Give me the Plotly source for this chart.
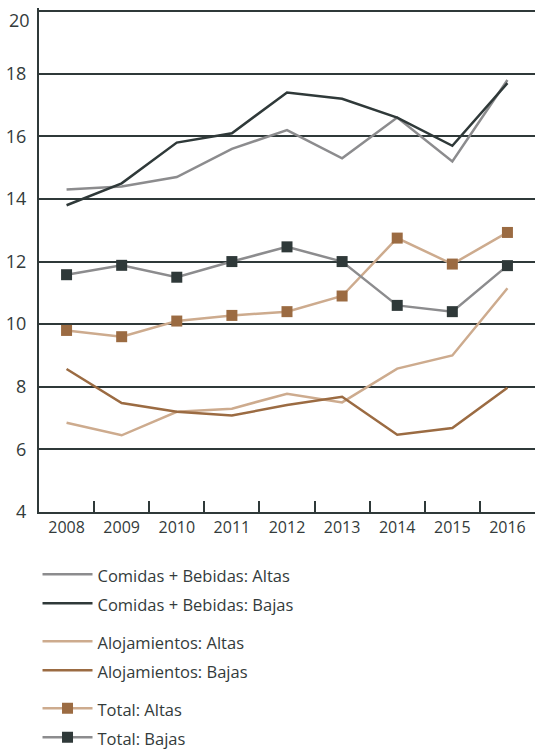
import plotly.graph_objects as go

years = ["2008", "2009", "2010", "2011", "2012", "2013", "2014", "2015", "2016"]

comidas_altas = [14.3, 14.4, 14.7, 15.6, 16.2, 15.3, 16.6, 15.2, 17.8]
comidas_bajas = [13.8, 14.5, 15.8, 16.1, 17.4, 17.2, 16.6, 15.7, 17.7]
aloj_altas = [6.85, 6.45, 7.2, 7.3, 7.78, 7.5, 8.58, 9.0, 11.15]
aloj_bajas = [8.57, 7.48, 7.2, 7.08, 7.42, 7.68, 6.47, 6.68, 7.97]
total_altas = [9.8, 9.6, 10.1, 10.28, 10.4, 10.9, 12.75, 11.92, 12.93]
total_bajas = [11.58, 11.88, 11.5, 12.0, 12.47, 12.0, 10.6, 10.4, 11.87]
y_ticks = [4, 6, 8, 10, 12, 14, 16, 18, 20]

GRAY = "#8c8c8e"
DARK = "#2f3939"
TAN = "#cdab8e"
BROWN = "#9b6b42"
TEXT = "#333b3b"
FONT = "Open Sans"

fig = go.Figure()

def add_line(y, name, color, group, marker_color=None):
    kw = dict(mode="lines")
    if marker_color:
        kw = dict(mode="lines+markers",
                  marker=dict(symbol="square", size=11, color=marker_color))
    fig.add_trace(go.Scatter(
        x=years, y=y,
        name=f"<span style='font-size:16.5px'>{name}</span>",
        legendgroup=group,
        line=dict(color=color, width=2.5), **kw))

add_line(comidas_altas, "Comidas + Bebidas: Altas", GRAY, "g1")
add_line(comidas_bajas, "Comidas + Bebidas: Bajas", DARK, "g1")
add_line(aloj_altas, "Alojamientos: Altas", TAN, "g2")
add_line(aloj_bajas, "Alojamientos: Bajas", BROWN, "g2")
add_line(total_altas, "Total: Altas", TAN, "g3", BROWN)
add_line(total_bajas, "Total: Bajas", GRAY, "g3", DARK)

# top tick label sits just below its gridline, as in the reference
tick_text = [str(v) for v in y_ticks]
tick_text[-1] = ""
fig.add_annotation(
    xref="paper", yref="y", x=0, y=y_ticks[-1], text=str(y_ticks[-1]),
    xanchor="right", yanchor="middle", xshift=-7, yshift=-8.5,
    showarrow=False, font=dict(size=18, family=FONT, color=TEXT),
)

fig.update_layout(
    width=535, height=753,
    margin=dict(l=39, r=0, t=8, b=241, autoexpand=False),
    paper_bgcolor="white", plot_bgcolor="white",
    font=dict(family=FONT, color=TEXT),
    legend=dict(
        x=-0.003, y=-0.085, xanchor="left", yanchor="top",
        traceorder="grouped", tracegroupgap=9,
        font=dict(size=20, color=TEXT),
        itemwidth=50,
    ),
    xaxis=dict(
        type="category", range=[-0.5, 8.5], automargin=False,
        showgrid=False, showline=True, linecolor=DARK, linewidth=2,
        ticks="inside", tickson="boundaries", ticklen=11, tickwidth=2,
        tickcolor=DARK, tickfont=dict(size=16, family=FONT), fixedrange=True,
    ),
    yaxis=dict(
        range=[4, 20.1], tickvals=y_ticks, ticktext=tick_text,
        automargin=False, ticklabeloverflow="allow",
        showgrid=True, gridcolor=DARK, gridwidth=1.6,
        showline=True, linecolor=DARK, linewidth=2, zeroline=False,
        ticks="outside", ticklen=7, tickcolor="rgba(0,0,0,0)",
        tickfont=dict(size=18, family=FONT, color=TEXT),
        fixedrange=True,
    ),
)

fig.write_html("out.html", config={"displayModeBar": False},
               post_script="document.body.style.margin='0px';")
